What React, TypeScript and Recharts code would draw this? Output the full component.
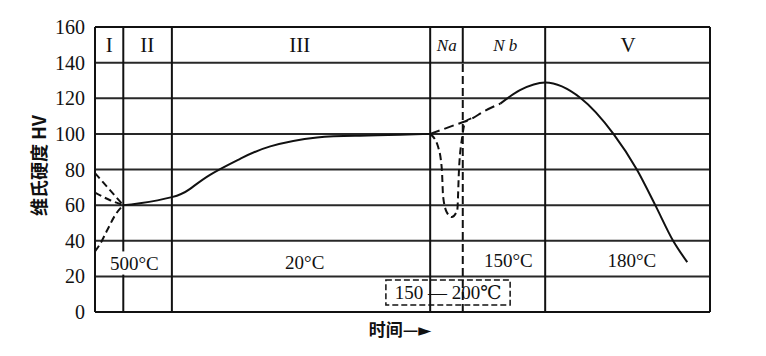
import { ComposedChart, Line, XAxis, YAxis, CartesianGrid, ReferenceLine, ReferenceArea, ReferenceDot } from "recharts";

// time is in arbitrary units (0-100), hardness in HV
const HV_TICKS = [0, 20, 40, 60, 80, 100, 120, 140, 160];
const REGION_BOUNDS = [12.5, 54.5, 73.2, 100];
const FIRST_BOUND = 4.6; // broken where the 500°C label sits
const NA_NB_BOUND = 59.8;

const REGION_LABELS = [
  { t: 2.3, text: "I" },
  { t: 8.5, text: "II" },
  { t: 33.3, text: "III" },
  { t: 57.2, text: "Na" },
  { t: 66.7, text: "N b" },
  { t: 86.7, text: "V" },
];

const TEMP_LABELS = [
  { t: 6.4, hv: 27.5, text: "500°C" },
  { t: 34.1, hv: 28, text: "20°C" },
  { t: 67.2, hv: 29, text: "150°C" },
  { t: 87.3, hv: 29, text: "180°C" },
];

// natural ageing, solid part
const mainSolidA = [
  { t: 4.6, hv: 60 },
  { t: 7.3, hv: 61 },
  { t: 12.5, hv: 64.5 },
  { t: 15.4, hv: 69 },
  { t: 18.7, hv: 77 },
  { t: 23.6, hv: 86 },
  { t: 28.5, hv: 93 },
  { t: 36.1, hv: 98 },
  { t: 43.1, hv: 99 },
  { t: 49.6, hv: 99.5 },
  { t: 54.5, hv: 100 },
];

const mainDashed = [
  { t: 54.5, hv: 100 },
  { t: 58.5, hv: 105 },
  { t: 61.5, hv: 109 },
  { t: 62.9, hv: 112 },
  { t: 65.9, hv: 117 },
];

const mainSolidB = [
  { t: 65.9, hv: 117 },
  { t: 69.1, hv: 124.5 },
  { t: 73.2, hv: 128.8 },
  { t: 79.0, hv: 120 },
  { t: 84.3, hv: 100 },
  { t: 88.1, hv: 80 },
  { t: 91.1, hv: 60 },
  { t: 94.0, hv: 40 },
  { t: 96.3, hv: 28 },
];

// quench branches at the start
const quenchA = [
  { t: 0, hv: 78 },
  { t: 2.3, hv: 69 },
  { t: 4.6, hv: 60 },
];
const quenchB = [
  { t: 0, hv: 67 },
  { t: 2.3, hv: 63 },
  { t: 4.6, hv: 60 },
];
const quenchC = [
  { t: 0, hv: 34 },
  { t: 0.8, hv: 38 },
  { t: 2.0, hv: 46 },
  { t: 3.3, hv: 54.5 },
  { t: 4.6, hv: 60 },
];

// retrogression dip
const retrogression = [
  { t: 54.5, hv: 100 },
  { t: 55.8, hv: 92.6 },
  { t: 56.4, hv: 80 },
  { t: 56.6, hv: 65 },
  { t: 57.2, hv: 56 },
  { t: 58.0, hv: 53.3 },
  { t: 58.9, hv: 57 },
  { t: 59.2, hv: 81 },
  { t: 59.7, hv: 98 },
  { t: 60.2, hv: 106.7 },
  { t: 61.5, hv: 109 },
];

const INK = "#111";
const SERIF = "'Liberation Serif', 'DejaVu Serif', serif";
const CJK = "'Noto Sans CJK SC', 'DejaVu Sans', sans-serif";

const YTitle = (props: any) => {
  const { viewBox } = props;
  const x = viewBox.x + 3;
  const y = viewBox.y + viewBox.height / 2 - 4;
  return (
    <text x={x} y={y} transform={`rotate(-90, ${x}, ${y})`} textAnchor="middle" dominantBaseline="central"
      fontFamily={CJK} fontSize={18} fontWeight={700} fill={INK}>
      维氏硬度 HV
    </text>
  );
};

export default function App() {
  const lineProps = {
    dataKey: "hv",
    stroke: INK,
    strokeWidth: 2,
    dot: false,
    activeDot: false,
    isAnimationActive: false,
    type: "monotone" as const,
  };
  return (
    <ComposedChart width={750} height={340} margin={{ top: 19, right: 48, bottom: 36, left: 27 }}>
      <CartesianGrid horizontal vertical={false} stroke={INK} strokeWidth={2} strokeOpacity={0.9} />
      <XAxis type="number" dataKey="t" domain={[0, 100]} hide allowDataOverflow />
      <YAxis
        type="number"
        domain={[0, 160]}
        ticks={HV_TICKS}
        width={60}
        axisLine={{ stroke: INK, strokeWidth: 2 }}
        tickLine={false}
        tick={{ fontFamily: SERIF, fontSize: 20, fill: INK }}
        tickMargin={4}
        label={{ content: YTitle }}
      />
      <ReferenceLine y={0} stroke={INK} strokeWidth={2} />
      <ReferenceLine y={160} stroke={INK} strokeWidth={2} />
      <ReferenceLine segment={[{ x: FIRST_BOUND, y: 34 }, { x: FIRST_BOUND, y: 160 }]} stroke={INK} strokeWidth={2} />
      <ReferenceLine segment={[{ x: FIRST_BOUND, y: 0 }, { x: FIRST_BOUND, y: 21 }]} stroke={INK} strokeWidth={2} />
      {REGION_BOUNDS.map((b) => (
        <ReferenceLine key={b} x={b} stroke={INK} strokeWidth={2} />
      ))}
      <ReferenceLine segment={[{ x: NA_NB_BOUND, y: 140 }, { x: NA_NB_BOUND, y: 160 }]} stroke={INK} strokeWidth={2} />
      <ReferenceLine segment={[{ x: NA_NB_BOUND, y: 0 }, { x: NA_NB_BOUND, y: 140 }]} stroke={INK} strokeWidth={2} strokeDasharray="8 4" />
      <ReferenceArea x1={47.3} x2={67.5} y1={4} y2={18} fill="#fff" fillOpacity={1} stroke={INK} strokeWidth={1.5} strokeDasharray="6 3"
        label={{ value: "150 — 200℃", position: "center", fontFamily: SERIF, fontSize: 19, fill: INK }} />

      <Line data={mainSolidA} {...lineProps} type="natural" />
      <Line data={mainDashed} {...lineProps} strokeDasharray="10 5" />
      <Line data={mainSolidB} {...lineProps} />
      <Line data={quenchA} {...lineProps} strokeDasharray="7 4" />
      <Line data={quenchB} {...lineProps} strokeDasharray="7 4" />
      <Line data={quenchC} {...lineProps} strokeDasharray="7 4" />
      <Line data={retrogression} {...lineProps} strokeDasharray="7 4" />

      {REGION_LABELS.map((r) => (
        <ReferenceDot key={r.text} x={r.t} y={150} r={0} stroke="none" fill="none"
          label={{ value: r.text, position: "center", fontFamily: SERIF, fontSize: r.text.startsWith("N") ? 17 : 21,
            fontStyle: r.text.startsWith("N") ? "italic" : "normal", fill: INK }} />
      ))}
      {TEMP_LABELS.map((r) => (
        <ReferenceDot key={r.text} x={r.t} y={r.hv} r={0} stroke="none" fill="none"
          label={{ value: r.text, position: "center", fontFamily: SERIF, fontSize: 19, fill: INK }} />
      ))}
      <ReferenceDot x={49.6} y={-10} r={0} stroke="none" fill="none" ifOverflow="visible"
        label={{ value: "时间—►", position: "center", fontFamily: CJK, fontSize: 17, fontWeight: 700, fill: INK }} />
    </ComposedChart>
  );
}
